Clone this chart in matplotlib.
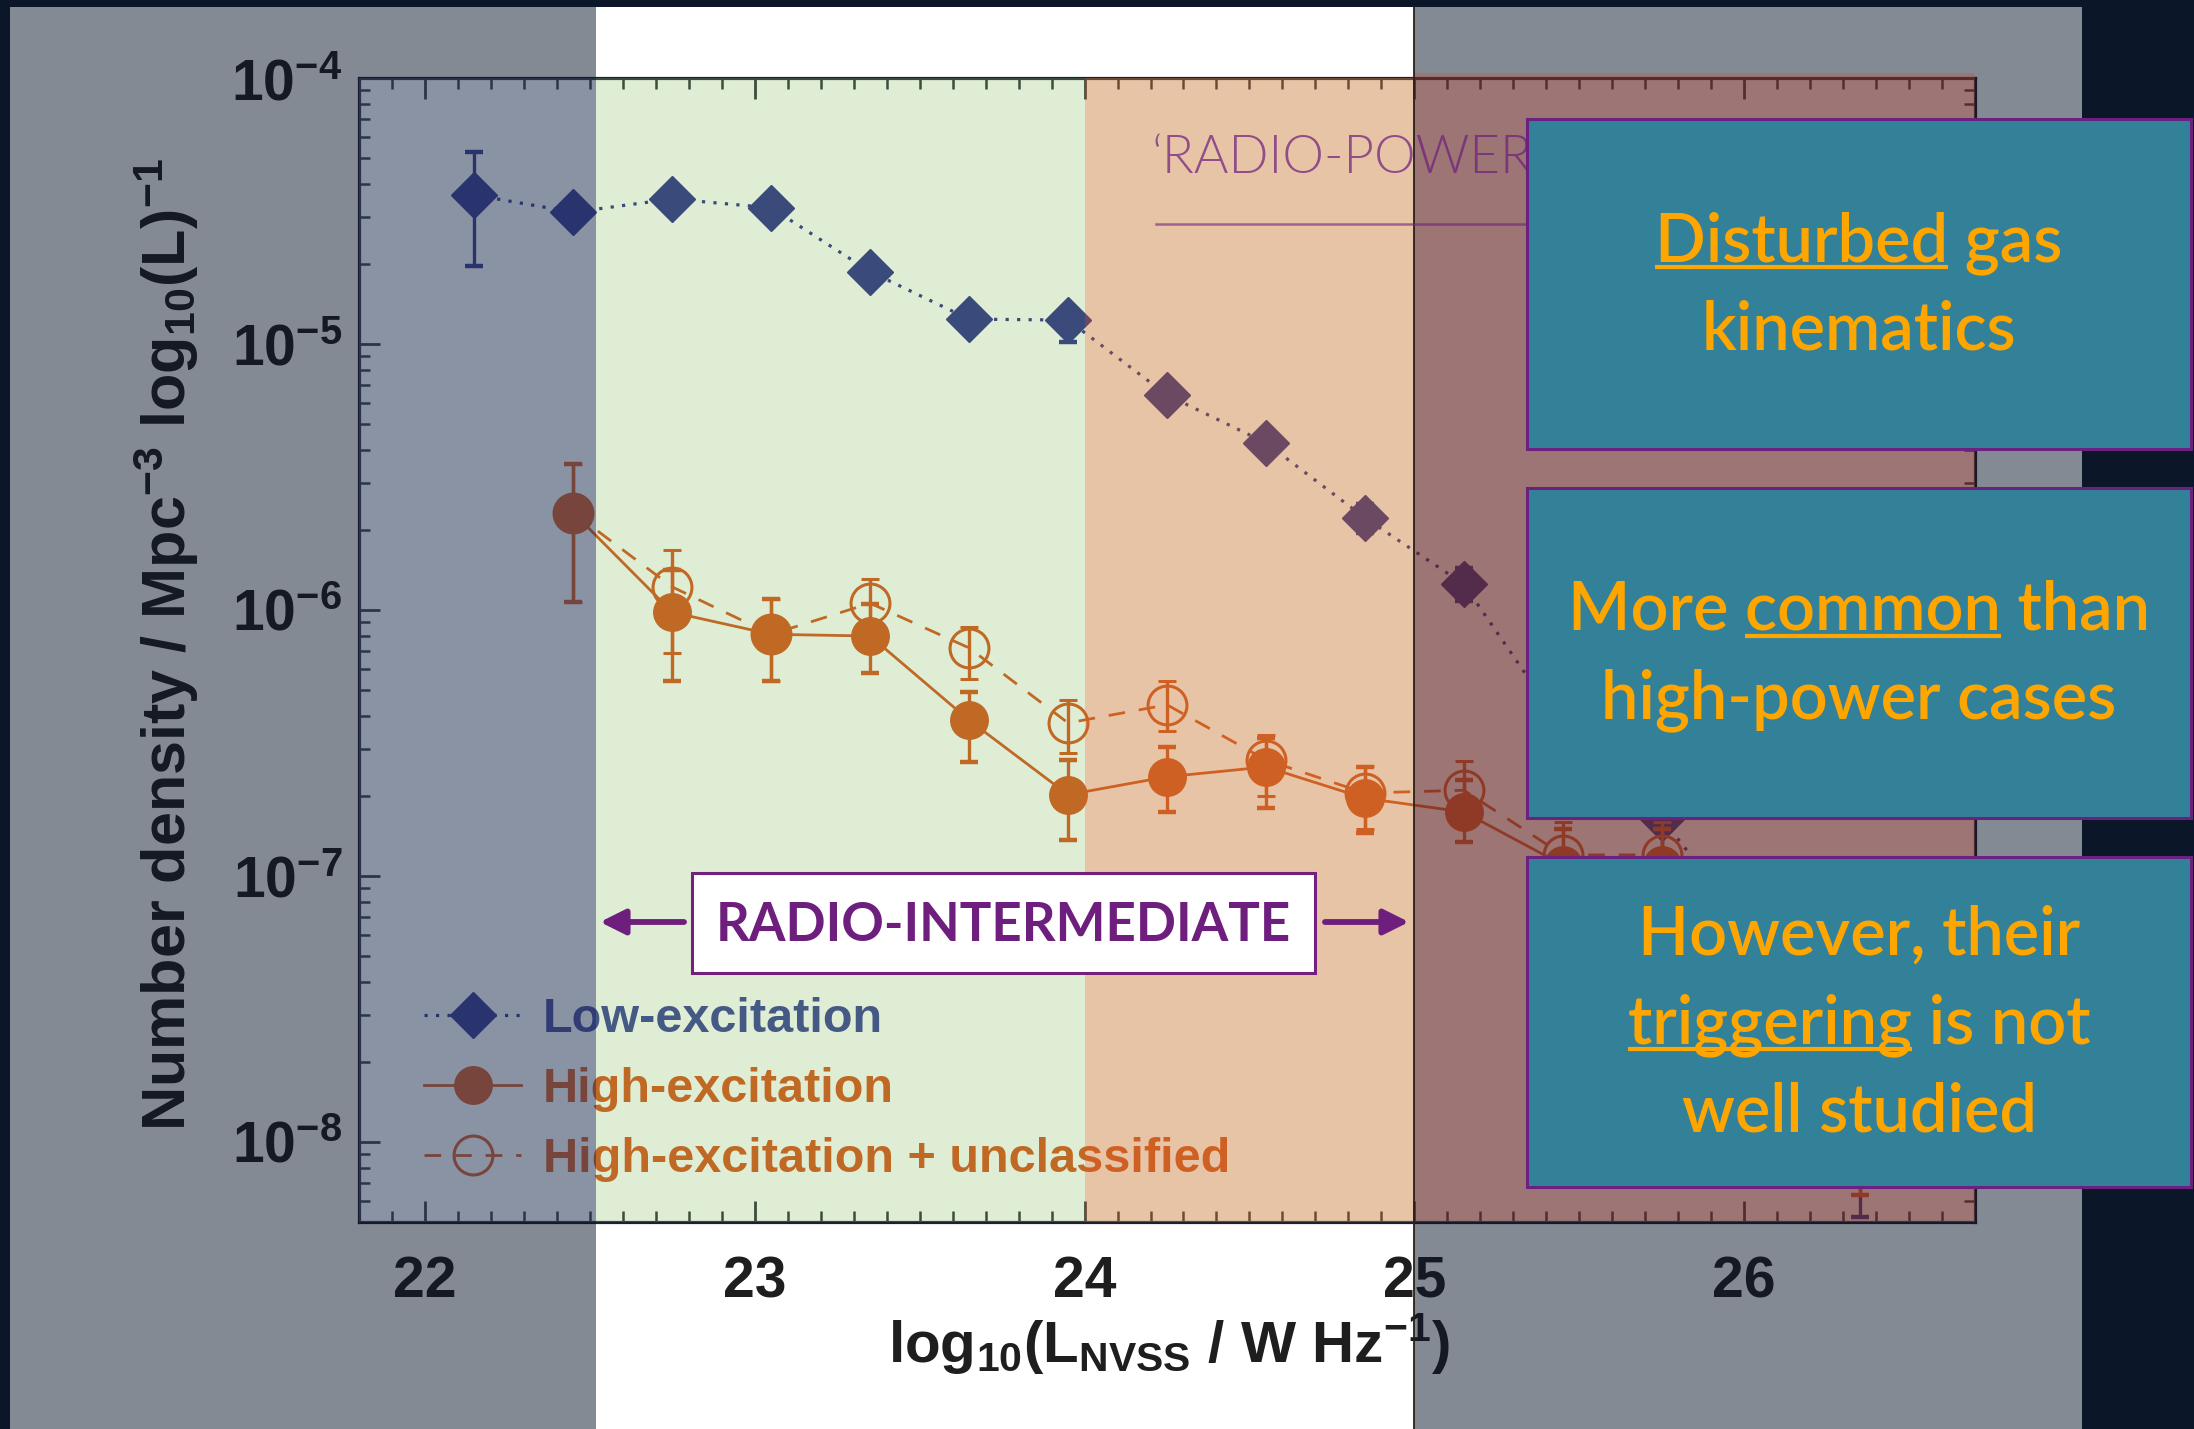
import matplotlib
matplotlib.use("Agg")
import matplotlib.pyplot as plt
import numpy as np
from matplotlib.patches import Rectangle
from matplotlib.lines import Line2D
from matplotlib.ticker import MultipleLocator, LogLocator, NullFormatter

plt.rcParams.update({
    "font.family": "Liberation Sans",
    "font.weight": "bold",
    "axes.labelweight": "bold",
    "axes.unicode_minus": False,
    "mathtext.fontset": "custom",
    "mathtext.rm": "Liberation Sans:bold",
    "mathtext.it": "Liberation Sans:bold",
    "mathtext.bf": "Liberation Sans:bold",
    "mathtext.default": "rm",
})

# ---------------- data: local radio luminosity functions ----------------
lerg_logL = [22.15, 22.45, 22.75, 23.05, 23.35, 23.65, 23.95, 24.25, 24.55,
             24.85, 25.15, 25.45, 25.75, 26.05, 26.35]
lerg_rho = [3.63e-5, 3.13e-5, 3.51e-5, 3.25e-5, 1.87e-5, 1.24e-5, 1.23e-5, 6.43e-6,
            4.25e-6, 2.22e-6, 1.25e-6, 3.6e-7, 1.65e-7, 5.5e-8, 1.5e-8]
lerg_lo = [1.96e-5, 2.9e-5, 3.25e-5, 3.0e-5, 1.72e-5, 1.12e-5, 1.02e-5, 5.9e-6,
           3.85e-6, 1.95e-6, 1.08e-6, 2.8e-7, 1.15e-7, 2.6e-8, 5.2e-9]
lerg_hi = [5.27e-5, 3.38e-5, 3.78e-5, 3.5e-5, 2.03e-5, 1.37e-5, 1.36e-5, 7.0e-6,
           4.65e-6, 2.5e-6, 1.44e-6, 4.6e-7, 2.3e-7, 9.0e-8, 3.0e-8]

herg_logL = [22.45, 22.75, 23.05, 23.35, 23.65, 23.95, 24.25, 24.55, 24.85,
             25.15, 25.45, 25.75, 26.05, 26.35]
herg_rho = [2.32e-6, 9.8e-7, 8.1e-7, 7.98e-7, 3.85e-7, 2.02e-7, 2.36e-7, 2.57e-7,
            1.96e-7, 1.74e-7, 1.1e-7, 1.1e-7, 4.5e-8, 2.0e-8]
herg_lo = [1.07e-6, 5.4e-7, 5.4e-7, 5.8e-7, 2.69e-7, 1.36e-7, 1.74e-7, 1.8e-7,
           1.45e-7, 1.34e-7, 8.0e-8, 8.0e-8, 2.5e-8, 6.3e-9]
herg_hi = [3.54e-6, 1.41e-6, 1.1e-6, 1.05e-6, 4.9e-7, 2.73e-7, 3.05e-7, 3.3e-7,
           2.57e-7, 2.3e-7, 1.5e-7, 1.5e-7, 7.0e-8, 3.5e-8]

hu_logL = [22.45, 22.75, 23.05, 23.35, 23.65, 23.95, 24.25, 24.55, 24.85,
           25.15, 25.45, 25.75, 26.05, 26.35]
hu_rho = [2.32e-6, 1.22e-6, 8.1e-7, 1.06e-6, 7.2e-7, 3.76e-7, 4.4e-7, 2.73e-7,
          2.05e-7, 2.1e-7, 1.2e-7, 1.2e-7, 5.5e-8, 2.5e-8]
hu_lo = [1.07e-6, 6.9e-7, 5.4e-7, 8.0e-7, 5.5e-7, 2.9e-7, 3.5e-7, 2.0e-7,
         1.5e-7, 1.6e-7, 9.0e-8, 9.0e-8, 3.0e-8, 9.0e-9]
hu_hi = [3.54e-6, 1.68e-6, 1.1e-6, 1.31e-6, 8.6e-7, 4.6e-7, 5.4e-7, 3.4e-7,
         2.6e-7, 2.7e-7, 1.6e-7, 1.6e-7, 8.0e-8, 4.0e-8]

series_labels = ["Low-excitation", "High-excitation", "High-excitation + unclassified"]
x_ticks = [22, 23, 24, 25, 26]
x_limits = (21.8, 26.7)
y_limits = (5e-9, 1e-4)

# luminosity class boundaries (log10 L)
zone_edges = [21.8, 22.52, 24.0, 25.0, 26.7]

box_texts = [
    ["Disturbed gas", "kinematics"],
    ["More common than", "high-power cases"],
    ["However, their", "triggering is not", "well studied"],
]
box_underlined = ["Disturbed", "common", "triggering"]
intermediate_label = "RADIO-INTERMEDIATE"
powerful_label = "\u2018RADIO-POWERFUL\u2019"

# ---------------- colours ----------------
NAVY_BG = "#0b1628"
LERG_C = "#1b2084"
HERG_C = "#d24a0f"
TEAL = "#338199"
BOX_EDGE = "#6b2180"
TXT_ORANGE = "#ffa500"
PURPLE = "#6e1f7d"

W, H = 2194, 1429
fig = plt.figure(figsize=(W / 100, H / 100), dpi=100)
fig.patch.set_facecolor(NAVY_BG)


def fx(x):
    return x / W


def fy(y):
    return 1 - y / H


def px_rect(x0, y0, x1, y1, **kw):
    r = Rectangle((fx(x0), fy(y1)), (x1 - x0) / W, (y1 - y0) / H,
                  transform=fig.transFigure, **kw)
    fig.add_artist(r)
    return r


# white backdrop of the embedded figure
px_rect(10, 7, 2082, 1429, facecolor="white", edgecolor="none", zorder=-5)

# ---------------- the luminosity-function axes ----------------
ax_l, ax_r, ax_t, ax_b = 359, 1975, 78, 1222
ax = fig.add_axes([fx(ax_l), fy(ax_b), (ax_r - ax_l) / W, (ax_b - ax_t) / H])
ax.set_facecolor("none")
ax.set_yscale("log")
ax.set_xlim(*x_limits)
ax.set_ylim(*y_limits)


def asym(y, lo, hi):
    y, lo, hi = map(np.asarray, (y, lo, hi))
    return [y - lo, hi - y]


err_kw = dict(elinewidth=2.4, capsize=6.5, capthick=3.2)
c_lerg = ax.errorbar(lerg_logL, lerg_rho, yerr=asym(lerg_rho, lerg_lo, lerg_hi),
                     fmt="D", ms=23, color=LERG_C, ls=(0, (1, 2.6)), lw=2.3,
                     ecolor=LERG_C, zorder=3, **err_kw)
c_hu = ax.errorbar(hu_logL, hu_rho, yerr=asym(hu_rho, hu_lo, hu_hi),
                   fmt="o", ms=28, mfc="none", mec=HERG_C, mew=2.2, color=HERG_C,
                   ls=(0, (6, 5)), lw=2.0, ecolor=HERG_C, zorder=3.1, **err_kw)
c_herg = ax.errorbar(herg_logL, herg_rho, yerr=asym(herg_rho, herg_lo, herg_hi),
                     fmt="o", ms=27, color=HERG_C, ls="-", lw=2.0,
                     ecolor=HERG_C, zorder=3.2, **err_kw)

ax.set_xticks(x_ticks)
ax.set_xticklabels([str(t) for t in x_ticks])
ax.xaxis.set_minor_locator(MultipleLocator(0.1))
ax.yaxis.set_major_locator(LogLocator(base=10))
ax.yaxis.set_minor_locator(LogLocator(base=10, subs=np.arange(2, 10)))
ax.yaxis.set_minor_formatter(NullFormatter())

ax.tick_params(which="both", direction="in", top=True, right=True,
               color="#20222e", labelcolor="#1e1e1e")
ax.tick_params(which="major", length=15, width=2.0, labelsize=41)
ax.tick_params(which="minor", length=8, width=1.8)
ax.tick_params(axis="x", which="major", pad=24)
ax.tick_params(axis="y", which="major", pad=12)
for s in ax.spines.values():
    s.set_linewidth(2.3)
    s.set_color("#1e2030")

ax.set_ylabel("Number density / Mpc$^{-3}$ log$_{10}$(L)$^{-1}$",
              fontsize=44, fontweight="bold", color="#1e1e1e")
ax.yaxis.set_label_coords(-0.098, 0.505)
ax.set_xlabel("log$_{10}$(L$_{NVSS}$ / W Hz$^{-1}$)", fontsize=42,
              fontweight="bold", color="#1e1e1e")
ax.xaxis.set_label_coords(0.501, -0.078)

leg = ax.legend([c_lerg[0], c_herg[0], c_hu[0]], series_labels,
                loc="upper left", bbox_to_anchor=(fx(424), fy(997)),
                bbox_transform=fig.transFigure, frameon=False, borderpad=0,
                borderaxespad=0, handlelength=2.0, handletextpad=0.45,
                labelspacing=0.51, fontsize=35, numpoints=1)
leg.set_zorder(3.5)
leg_colors = ["#2a3490", HERG_C, HERG_C]
for t, c in zip(leg.get_texts(), leg_colors):
    t.set_color(c)

# translucent luminosity zones drawn over the data
ax.axvspan(zone_edges[1], zone_edges[2], color=(140 / 255, 190 / 255, 100 / 255),
           alpha=0.27, lw=0, zorder=4)
ax.axvspan(zone_edges[2], zone_edges[3], color=(205 / 255, 125 / 255, 60 / 255),
           alpha=0.45, lw=0, zorder=4)

fig.canvas.draw()


def xpix(v):
    return ax.transData.transform((v, 1e-6))[0]


x_lo_edge = xpix(zone_edges[1])
x_hi_edge = xpix(zone_edges[3])

# dimming panels either side of the intermediate range
px_rect(10, 7, x_lo_edge, 1429, facecolor=NAVY_BG, alpha=0.5, lw=0, zorder=10)
px_rect(x_hi_edge, 7, 2082, 1429, facecolor=NAVY_BG, alpha=0.5, lw=0, zorder=10)
px_rect(ax_l, ax_t, x_lo_edge, ax_b, facecolor=(175 / 255, 200 / 255, 1.0),
        alpha=0.15, lw=0, zorder=11)
px_rect(x_hi_edge, ax_t - 5, ax_r, ax_b, facecolor=(205 / 255, 80 / 255, 60 / 255),
        alpha=0.35, lw=0, zorder=11)
fig.add_artist(Line2D([fx(x_hi_edge)] * 2, [fy(1429), fy(7)], transform=fig.transFigure,
                      color="#2a2018", lw=1.3, zorder=12))

# 'radio-powerful' heading with rule
fig.text(fx(1152), fy(173), powerful_label, family="Lato",
         weight=300, fontsize=38, color=PURPLE, alpha=0.72, va="baseline",
         zorder=13)
fig.add_artist(Line2D([fx(1156), fx(1700)], [fy(224), fy(224)], transform=fig.transFigure,
                      color=PURPLE, alpha=0.6, lw=1.8, zorder=13))

# radio-intermediate label with arrows
px_rect(692, 873, 1315, 973, facecolor="white", edgecolor="#74207f", lw=2.2, zorder=13)
fig.text(fx(1003.5), fy(941), intermediate_label, family="Lato", weight="bold",
         fontsize=38, color=PURPLE, ha="center", va="baseline", zorder=14)
for tail, head in [(684, 600), (1325, 1409)]:
    fig.add_artist(plt.Annotation("", xy=(head, H - 922), xytext=(tail, H - 922),
                                  xycoords="figure pixels", textcoords="figure pixels",
                                  arrowprops=dict(arrowstyle="-|>", lw=4.2, color=PURPLE,
                                                  mutation_scale=38, shrinkA=0, shrinkB=0),
                                  zorder=13))

# teal call-out boxes
renderer = fig.canvas.get_renderer()
box_tops = [119, 488, 857]
box_h = 330
box_l, box_r = 1527, 2191
txt_kw = dict(family="Lato", weight="semibold", fontsize=48, color=TXT_ORANGE)


def text_width(s):
    t = fig.text(0, 0, s, **txt_kw)
    w = t.get_window_extent(renderer).width
    t.remove()
    return w


cx = (box_l + box_r) / 2
for top, lines, uword in zip(box_tops, box_texts, box_underlined):
    px_rect(box_l, top, box_r, top + box_h, facecolor=TEAL, edgecolor=BOX_EDGE,
            lw=2.2, zorder=14)
    n = len(lines)
    for k, line in enumerate(lines):
        base = top + 165 + 21 + (k - (n - 1) / 2) * 88
        fig.text(fx(cx), fy(base), line, ha="center", va="baseline", zorder=15, **txt_kw)
        if uword in line:
            full_w = text_width(line)
            left = cx - full_w / 2
            j = line.index(uword) + len(uword)
            end = left + text_width(line[:j])
            start = end - text_width(uword)
            fig.add_artist(Line2D([fx(start), fx(end)], [fy(base + 6)] * 2,
                                  transform=fig.transFigure, color=TXT_ORANGE,
                                  lw=3.0, solid_capstyle="butt", zorder=15))

fig.savefig("out.png", dpi=100, facecolor=fig.get_facecolor())
